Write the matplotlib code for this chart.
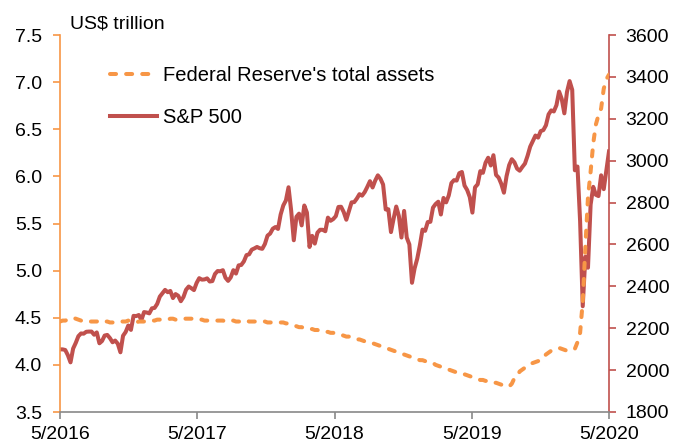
import numpy as np
import pandas as pd
import matplotlib
matplotlib.use("Agg")
import matplotlib.pyplot as plt
import matplotlib.dates as mdates

plt.rcParams['font.family'] = ['Liberation Sans', 'DejaVu Sans']

# ---------------- data (weekly, from 27 May 2016 to 29 May 2020) ----------------
start_date = '2016-05-27'

sp500_2016 = [2099, 2099, 2096, 2071, 2037, 2103, 2130, 2162, 2175, 2174, 2183, 2184, 2184, 2169,
              2180, 2128, 2139, 2165, 2168, 2153, 2133, 2141, 2126, 2085, 2164, 2182, 2213, 2192,
              2259, 2258, 2263, 2239]
sp500_2017 = [2277, 2275, 2271, 2295, 2297, 2316, 2351, 2367, 2383, 2372, 2378, 2344, 2363, 2355,
              2329, 2349, 2384, 2399, 2391, 2382, 2416, 2439, 2432, 2433, 2438, 2423, 2425, 2459,
              2473, 2472, 2477, 2441, 2426, 2443, 2477, 2461, 2500, 2502, 2519, 2549, 2553, 2575,
              2581, 2588, 2582, 2579, 2602, 2642, 2652, 2675, 2683, 2674]
sp500_2018 = [2743, 2786, 2810, 2873, 2762, 2620, 2732, 2747, 2691, 2786, 2752, 2588, 2641, 2604,
              2656, 2670, 2670, 2663, 2728, 2713, 2721, 2735, 2779, 2780, 2755, 2718, 2760, 2801,
              2802, 2819, 2840, 2833, 2850, 2875, 2902, 2872, 2905, 2930, 2914, 2886, 2767, 2768,
              2659, 2723, 2781, 2736, 2633, 2760, 2633, 2600, 2417, 2486]
sp500_2019 = [2532, 2596, 2671, 2665, 2707, 2708, 2776, 2793, 2804, 2743, 2822, 2801, 2834, 2893,
              2907, 2905, 2940, 2946, 2881, 2860, 2826, 2752, 2873, 2887, 2950, 2942, 2990, 3014,
              2977, 3026, 2932, 2919, 2889, 2847, 2926, 2979, 3007, 2992, 2962, 2952, 2970, 2986,
              3023, 3067, 3093, 3120, 3110, 3141, 3146, 3169, 3221, 3240]
sp500_2020 = [3235, 3265, 3330, 3295, 3226, 3328, 3380, 3338, 2954, 2972, 2711, 2305, 2541, 2489,
              2790, 2875, 2837, 2831, 2930, 2864, 2955, 3044]

fed_2016 = [4.46, 4.47, 4.47, 4.48, 4.49, 4.50, 4.49, 4.48, 4.47, 4.47, 4.47, 4.46, 4.46, 4.46,
            4.46, 4.47, 4.46, 4.46, 4.46, 4.45, 4.45, 4.45, 4.46, 4.46, 4.46, 4.46, 4.47, 4.46,
            4.46, 4.45, 4.46, 4.46]
fed_2017 = [4.46, 4.46, 4.47, 4.47, 4.47, 4.48, 4.48, 4.48, 4.48, 4.48, 4.49, 4.49, 4.48, 4.48,
            4.48, 4.49, 4.49, 4.49, 4.49, 4.49, 4.48, 4.48, 4.48, 4.47, 4.47, 4.47, 4.47, 4.47,
            4.47, 4.47, 4.47, 4.46, 4.47, 4.47, 4.47, 4.46, 4.46, 4.46, 4.47, 4.47, 4.46, 4.46,
            4.46, 4.46, 4.46, 4.46, 4.46, 4.45, 4.45, 4.45, 4.45, 4.45]
fed_2018 = [4.45, 4.45, 4.44, 4.44, 4.43, 4.42, 4.41, 4.40, 4.40, 4.39, 4.39, 4.38, 4.38, 4.37,
            4.37, 4.36, 4.36, 4.35, 4.35, 4.34, 4.34, 4.33, 4.33, 4.32, 4.31, 4.30, 4.30, 4.29,
            4.28, 4.27, 4.27, 4.26, 4.25, 4.24, 4.23, 4.23, 4.22, 4.21, 4.20, 4.19, 4.18, 4.17,
            4.16, 4.15, 4.14, 4.13, 4.12, 4.11, 4.10, 4.09, 4.08, 4.07]
fed_2019 = [4.06, 4.05, 4.05, 4.04, 4.04, 4.03, 4.02, 4.00, 3.99, 3.98, 3.97, 3.96, 3.95, 3.94,
            3.93, 3.92, 3.91, 3.90, 3.90, 3.89, 3.88, 3.87, 3.86, 3.85, 3.84, 3.84, 3.83, 3.83,
            3.82, 3.81, 3.81, 3.80, 3.79, 3.78, 3.77, 3.77, 3.80, 3.86, 3.88, 3.93, 3.95, 3.97,
            3.99, 4.01, 4.02, 4.03, 4.04, 4.05, 4.08, 4.11, 4.13, 4.15]
fed_2020 = [4.16, 4.17, 4.18, 4.17, 4.16, 4.15, 4.16, 4.17, 4.17, 4.24, 4.34, 4.67, 5.25, 5.78,
            6.05, 6.35, 6.55, 6.65, 6.72, 6.93, 7.03, 7.08]

x_tick_labels = ['5/2016', '5/2017', '5/2018', '5/2019', '5/2020']
left_ticks = [3.5, 4.0, 4.5, 5.0, 5.5, 6.0, 6.5, 7.0, 7.5]
right_ticks = [1800, 2000, 2200, 2400, 2600, 2800, 3000, 3200, 3400, 3600]

sp500 = sp500_2016 + sp500_2017 + sp500_2018 + sp500_2019 + sp500_2020
fed = fed_2016 + fed_2017 + fed_2018 + fed_2019 + fed_2020
sp_dates = pd.date_range(start_date, periods=len(sp500), freq='W-FRI')
fed_dates = pd.date_range(start_date, periods=len(fed), freq='W-FRI')

# ---------------- styling ----------------
ORANGE = '#F79646'
RED = '#C0504D'
GREY = '#898989'
FS = 14

fig = plt.figure(figsize=(6.75, 4.48), dpi=100)
ax = fig.add_axes([60 / 675, 1 - 412 / 448, 549 / 675, 377 / 448])
ax2 = ax.twinx()
ax.set_zorder(ax2.get_zorder() + 1)
ax.patch.set_visible(False)

fed_line, = ax.plot(fed_dates, fed, color=ORANGE, lw=2.9, dashes=(1.5, 2.5),
                    dash_capstyle='round', label="Federal Reserve's total assets")
sp_line, = ax2.plot(sp_dates, sp500, color=RED, lw=2.9, solid_joinstyle='round',
                    label='S&P 500')

x0 = mdates.date2num(sp_dates[0])
x1 = mdates.date2num(sp_dates[-1])
ax.set_xlim(x0, x1)
ax.set_xticks(np.linspace(x0, x1, len(x_tick_labels)))
ax.set_xticklabels(x_tick_labels)

ax.set_ylim(left_ticks[0], left_ticks[-1])
ax.set_yticks(left_ticks)
ax.set_yticklabels([f'{v:.1f}' for v in left_ticks])
ax2.set_ylim(right_ticks[0], right_ticks[-1])
ax2.set_yticks(right_ticks)
ax2.set_yticklabels([str(v) for v in right_ticks])

for a in (ax, ax2):
    a.spines['top'].set_visible(False)
    a.spines['left'].set_color(ORANGE)
    a.spines['right'].set_color(RED)
    a.spines['bottom'].set_color(GREY)
    a.spines['left'].set_linewidth(1.2)
    a.spines['right'].set_linewidth(1.2)
    a.spines['bottom'].set_linewidth(1.2)
ax2.spines['left'].set_visible(False)
ax2.spines['bottom'].set_visible(False)
ax.spines['right'].set_visible(False)

ax.tick_params(axis='y', direction='out', length=5, width=1.2, color=ORANGE,
               labelsize=FS, pad=8, labelcolor='black')
ax.tick_params(axis='x', direction='out', length=5, width=1.2, color=GREY,
               labelsize=FS, pad=5, labelcolor='black')
ax2.tick_params(axis='y', direction='out', length=5, width=1.2, color=RED,
                labelsize=FS, pad=7, labelcolor='black')

fig.text(70 / 675, 1 - 29 / 448, 'US$ trillion', fontsize=14, ha='left', va='baseline')

leg = ax.legend(handles=[fed_line, sp_line], loc='upper left',
                bbox_to_anchor=(50 / 549, 1 - 31 / 377), frameon=False, fontsize=14.5,
                handlelength=2.35, handletextpad=0.3, labelspacing=1.15,
                borderpad=0, borderaxespad=0)

fig.savefig('out.png', dpi=100)
